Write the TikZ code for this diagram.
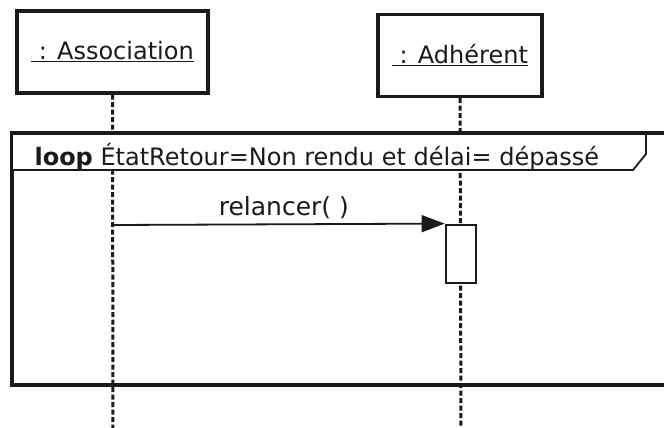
\documentclass[tikz,border=0pt]{standalone}
\usepackage{fontspec}
\setmainfont{DejaVu Sans}
\usepackage{tikz}
\usetikzlibrary{arrows.meta, positioning, calc}
\definecolor{inkdark}{HTML}{1A1A1A}
\tikzstyle{objectbox} = [draw=inkdark, line width=3.2pt, minimum height=82pt, inner sep=0pt, text=inkdark, font=\fontsize{24}{28}\selectfont]
\tikzstyle{lifeline} = [draw=inkdark, line width=3pt, dash pattern=on 5pt off 2.5pt]
\tikzstyle{activation} = [draw=inkdark, line width=2.8pt, fill=white, minimum width=30pt, minimum height=58pt, inner sep=0pt]
\tikzstyle{frame} = [draw=inkdark, line width=3.2pt]
\tikzstyle{message} = [draw=inkdark, line width=1.8pt, -{Triangle[length=23pt, width=17pt]}]

\begin{document}
\begin{tikzpicture}[x=1pt, y=-1pt, every node/.style={text=inkdark, font=\fontsize{25}{29}\selectfont}]
    \useasboundingbox (0,0) rectangle (664,428);
    \clip (0,0) rectangle (664,428);
    \fill[white] (0,0) rectangle (664,428);

    \node[objectbox, minimum width=191pt] (assoc) at (112.5,52) {\raisebox{3pt}{\underline{\ : Association}}};
    \node[objectbox, minimum width=164pt] (adh) at (460,55.5) {\raisebox{3pt}{\underline{\ : Adhérent}}};

    \coordinate (assocend) at (113,430);
    \coordinate (adhend) at (461,430);
    \coordinate (msgstart) at (113,225);

    \draw[lifeline] (assoc.south) -- (assocend);
    \draw[lifeline] (adh.south) -- (adhend);

    \draw[frame] (12,133) rectangle (690,385);
    \filldraw[fill=white, draw=inkdark, line width=1.8pt] (12,133) -- (12,170) -- (633,170) -- (646,154) -- (646,133) -- cycle;
    \draw[frame] (12,133) -- (690,133);
    \node[anchor=base west, font=\fontsize{24}{28}\selectfont] (looplabel) at (31,165) {\textbf{loop} ÉtatRetour=Non rendu et délai= dépassé};

    \node[activation] (act) at (461,254) {};
    \draw[message] (msgstart) -- node[above=1pt, xshift=5pt] {relancer( )} (act.north west);
\end{tikzpicture}
\end{document}
